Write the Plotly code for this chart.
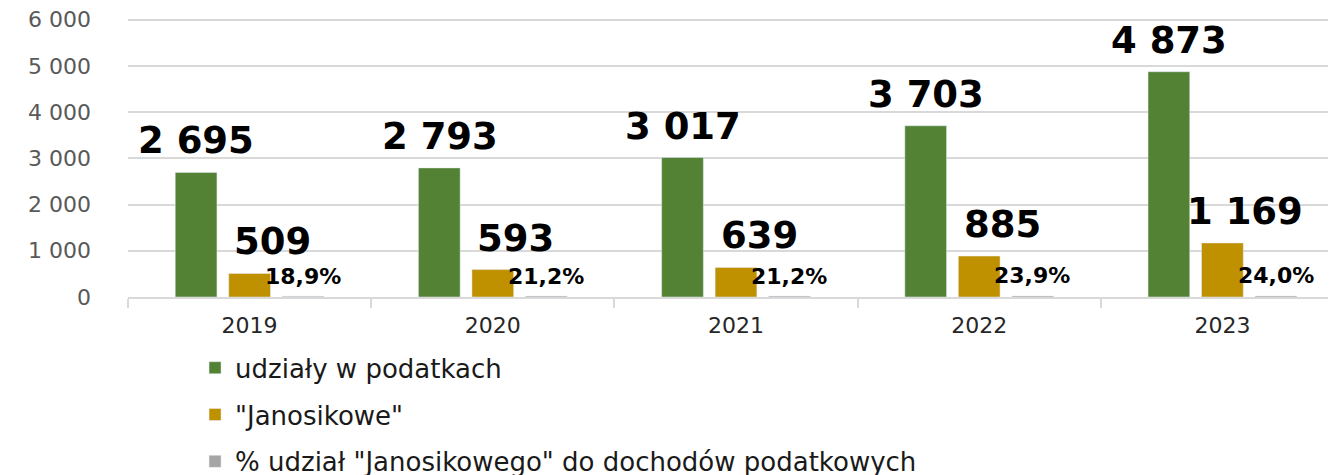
import plotly.graph_objects as go

years = ["2019", "2020", "2021", "2022", "2023"]
udzialy = [2695, 2793, 3017, 3703, 4873]
janosikowe = [509, 593, 639, 885, 1169]
procent = [18.9, 21.2, 21.2, 23.9, 24.0]

names = ["udziały w podatkach", "\"Janosikowe\"", "% udział \"Janosikowego\" do dochodów podatkowych"]
colors = ["#548235", "#BF9000", "#A5A5A5"]
FONT = "DejaVu Sans"

def fmt_int(v):
    return f"{v:,}".replace(",", " ")

def fmt_pct(v):
    return f"{v:.1f}".replace(".", ",") + "%"

fig = go.Figure()
for i, (vals, nm, col) in enumerate(zip([udzialy, janosikowe, procent], names, colors)):
    fig.add_trace(go.Bar(x=years, y=vals, name=nm, marker_color=col,
                         legendgroup=f"g{i}", hoverinfo="skip"))

slot = 53.2
anns = []
for i, v in enumerate(udzialy):
    anns.append(dict(x=i, y=v, xref="x", yref="y", text=fmt_int(v), xshift=-slot, yshift=8, yanchor="bottom",
                     showarrow=False, font=dict(family=FONT, size=37, color="#000000", weight="bold")))
for i, v in enumerate(janosikowe):
    anns.append(dict(x=i, y=v, xref="x", yref="y", text=fmt_int(v), xshift=23, yshift=8, yanchor="bottom",
                     showarrow=False, font=dict(family=FONT, size=37, color="#000000", weight="bold")))
for i, v in enumerate(procent):
    anns.append(dict(x=i, y=v, xref="x", yref="y", text=fmt_pct(v), xshift=slot, yshift=20, yanchor="middle",
                     showarrow=False, font=dict(family=FONT, size=22, color="#000000", weight="bold")))

fig.update_layout(
    width=1336, height=475,
    margin=dict(l=120, r=0, t=7, b=186, autoexpand=False),
    paper_bgcolor="white", plot_bgcolor="white",
    separators=", ",
    barmode="group", bargap=0.34, bargroupgap=0.22,
    font=dict(family=FONT),
    annotations=anns,
    showlegend=True,
    legend=dict(orientation="v", xref="container", yref="container", x=0.140, xanchor="left",
                y=0.292, yanchor="top",
                font=dict(family=FONT, size=26, color="#1a1a1a"),
                tracegroupgap=10, itemwidth=30),
    xaxis=dict(type="category", range=[-0.5, 4.5], automargin=False, showgrid=False, showline=True,
               linecolor="#d9d9d9", linewidth=2,
               ticks="outside", tickson="boundaries", ticklen=9, tickcolor="#d9d9d9", tickwidth=2,
               ticklabelstandoff=8,
               tickangle=0, tickfont=dict(family=FONT, size=22, color="#262626")),
    yaxis=dict(range=[0, 6100], dtick=1000, tickformat=",", showgrid=True, gridcolor="#d9d9d9",
               automargin=False, ticklabeloverflow="allow",
               gridwidth=2, zeroline=False, showline=False, ticklabelstandoff=36,
               tickfont=dict(family=FONT, size=22, color="#595959")),
)

fig.write_html("out.html")
